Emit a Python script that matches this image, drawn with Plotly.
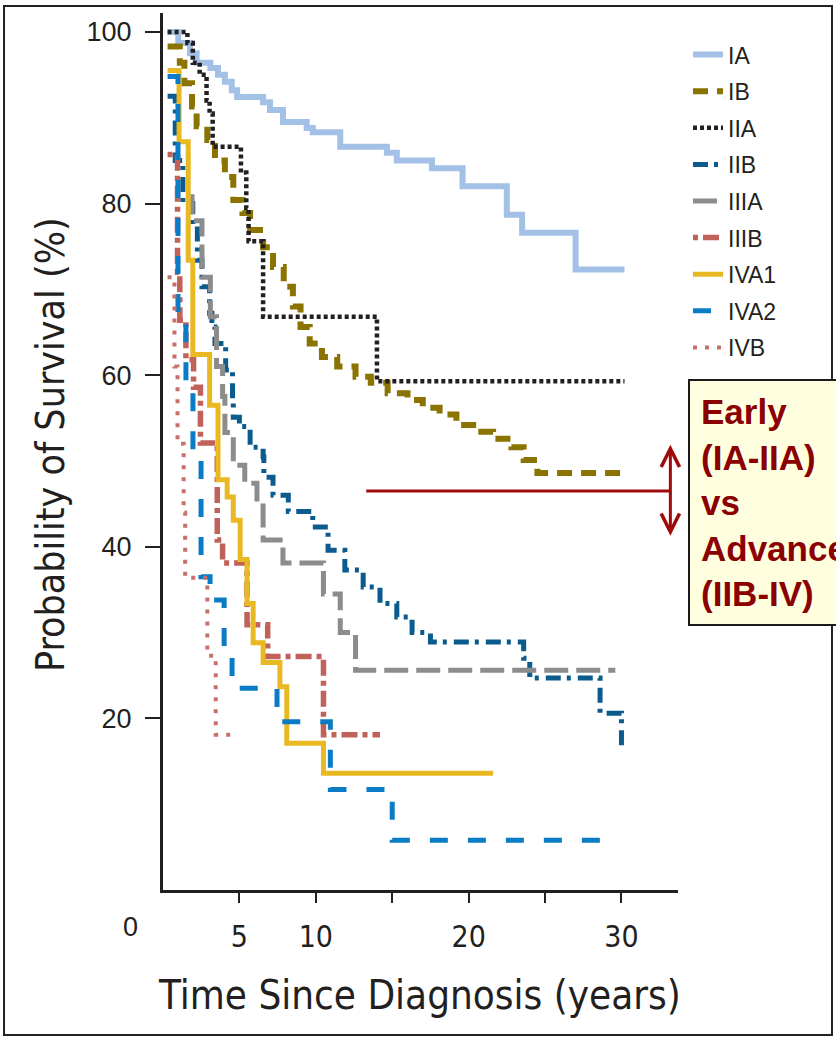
import plotly.graph_objects as go

# Kaplan-Meier survival estimates by stage: time (years) and survival (%)
stages = ["IA", "IB", "IIA", "IIB", "IIIA", "IIIB", "IVA1", "IVA2", "IVB"]

ia_t = [0.3, 1.0, 1.77, 2.2, 3.1, 3.6, 4.05, 4.5, 4.85, 6.55, 7.0, 7.85, 9.4, 9.8,
        11.6, 14.65, 15.3, 17.6, 19.6, 22.5, 23.5, 27.0, 30.2]
ia_s = [100, 98.7, 97.5, 96.4, 95.8, 95.0, 94.2, 93.2, 92.4, 91.8, 90.9, 89.5, 88.8, 88.3,
        86.6, 85.9, 85.0, 84.1, 82.0, 78.7, 76.6, 72.3, 72.3]

ib_t = [0.3, 1.1, 1.4, 1.9, 2.2, 2.9, 3.4, 4.05, 4.6, 5.2, 5.7, 6.55, 7.2, 7.9, 8.5, 9.0,
        9.6, 10.4, 11.4, 12.6, 13.6, 14.7, 16.0, 17.0, 18.1, 19.2, 20.5, 21.6, 22.8, 23.6,
        24.5, 30.2]
ib_s = [98.3, 96.4, 94.0, 91.3, 89.0, 87.4, 85.0, 83.1, 80.4, 78.9, 76.9, 74.9, 72.6, 70.3,
        68.0, 65.6, 63.7, 62.1, 61.0, 59.8, 59.1, 57.9, 57.1, 56.2, 55.4, 54.2, 53.4, 52.6,
        51.6, 50.1, 48.6, 48.6]

iia_t = [0.3, 1.6, 1.95, 2.4, 2.85, 3.05, 3.25, 5.1, 5.45, 5.6, 6.55, 14.0, 30.2]
iia_s = [100, 98.7, 96.4, 95.0, 92.0, 90.5, 86.6, 83.6, 79.5, 75.6, 66.8, 59.3, 59.3]

iib_t = [0.3, 0.8, 1.3, 1.95, 2.25, 2.55, 3.05, 3.2, 3.4, 4.1, 4.55, 4.6, 5.0, 5.7, 6.55,
         6.6, 7.2, 8.2, 9.8, 10.8, 11.9, 13.1, 14.2, 15.3, 16.3, 17.5, 23.6, 24.0, 28.6, 30.0]
iib_s = [92.5, 85.0, 80.0, 77.5, 73.4, 70.3, 67.2, 65.6, 63.7, 60.6, 57.1, 55.1, 54.0, 51.6,
         50.5, 48.1, 46.0, 44.1, 42.3, 39.6, 37.3, 35.3, 33.4, 31.8, 30.0, 28.9, 27.0, 24.7,
         20.6, 16.3]

iiia_t = [1.5, 1.9, 2.55, 3.1, 3.5, 3.9, 4.05, 4.6, 5.35, 6.15, 6.55, 7.85, 10.5, 11.6,
          12.6, 29.6]
iiia_s = [80.8, 78.0, 71.4, 66.8, 61.0, 57.5, 53.3, 49.5, 47.4, 45.1, 40.8, 38.1, 34.5,
          30.0, 25.6, 25.6]

iiib_t = [0.3, 0.95, 1.1, 1.5, 2.0, 2.45, 3.55, 3.9, 5.5, 6.85, 10.5, 14.2]
iiib_s = [85.7, 72.0, 66.4, 61.8, 58.6, 52.1, 40.8, 38.1, 30.9, 27.2, 18.1, 18.1]

iva1_t = [0.3, 1.05, 1.65, 1.95, 3.05, 3.6, 4.2, 4.6, 5.05, 5.5, 5.9, 6.55, 7.65, 8.1,
          10.5, 21.6]
iva1_s = [95.5, 87.2, 73.4, 62.4, 56.5, 47.8, 45.8, 43.1, 38.5, 33.4, 28.8, 26.5, 23.7,
          17.1, 13.6, 13.6]

iva2_t = [0.3, 0.98, 1.5, 1.96, 2.49, 3.08, 4.0, 4.52, 7.46, 10.95, 15.0, 29.1]
iva2_s = [94.8, 66.0, 58.0, 51.0, 36.5, 33.8, 28.0, 23.5, 19.6, 11.7, 5.8, 5.8]

ivb_t = [0.3, 0.75, 0.95, 1.35, 1.45, 2.9, 3.45, 4.9]
ivb_s = [71.4, 61.0, 52.0, 44.0, 36.4, 27.3, 18.1, 18.1]

x_tick_vals = [5, 10, 15, 20, 25, 30]
x_tick_text = ["5", "10", "", "20", "", "30"]
y_tick_vals = [20, 40, 60, 80, 100]

# comparison marker: horizontal rule and double arrow beside the callout
split_level = 46.5
split_x = [13.3, 33.2]
arrow_span = [51.9, 41.1]

series = [
    (ia_t, ia_s, "#a3c1e7", 6, "solid"),
    (ib_t, ib_s, "#8a7300", 6, "15px,9px"),
    (iia_t, iia_s, "#231f20", 4.5, "4px,3px"),
    (iib_t, iib_s, "#0b5b8f", 5, "15px,6px,4px,7px"),
    (iiia_t, iiia_s, "#8c8c8c", 5, "24px,8px"),
    (iiib_t, iiib_s, "#c0625a", 5.5, "5px,5px,16px,5px"),
    (iva1_t, iva1_s, "#e8b923", 5, "solid"),
    (iva2_t, iva2_s, "#0a7bc5", 5, "18px,20px"),
    (ivb_t, ivb_s, "#c8706a", 4, "4px,8px"),
]

narrow = "Liberation Sans Narrow, DejaVu Sans Condensed, Arial Narrow, sans-serif"
plain = "Liberation Sans, Arial, Helvetica, sans-serif"
ink = "#231f20"

fig = go.Figure()
for name, (t, s, color, width, dash) in zip(stages, series):
    fig.add_trace(go.Scatter(
        x=t, y=s, name=name, mode="lines", legendgroup=name,
        line=dict(shape="hv", color=color, width=width, dash=dash),
    ))

fig.update_layout(
    width=836, height=1038,
    margin=dict(l=163, r=158, t=13, b=148, autoexpand=False),
    paper_bgcolor="white", plot_bgcolor="white",
    showlegend=True,
    legend=dict(
        x=1.0194, y=0.977, xanchor="left", yanchor="top",
        font=dict(family=plain, size=23, color=ink),
        tracegroupgap=3.7, bgcolor="rgba(0,0,0,0)", borderwidth=0,
    ),
    xaxis=dict(
        range=[0, 33.7], showgrid=False, zeroline=False,
        showline=True, linewidth=3, linecolor=ink,
        tickmode="array", tickvals=x_tick_vals, ticktext=x_tick_text,
        ticks="outside", ticklen=10, tickwidth=2, tickcolor=ink,
        tickfont=dict(family=narrow, size=30, color=ink), ticklabelstandoff=8,
    ),
    yaxis=dict(
        range=[0, 102.2], showgrid=False, zeroline=False,
        showline=True, linewidth=3, linecolor=ink,
        tickmode="array", tickvals=y_tick_vals,
        ticks="outside", ticklen=15, tickwidth=2, tickcolor=ink,
        tickfont=dict(family=plain, size=27, color=ink), ticklabelstandoff=8,
    ),
)

# axis titles and shared origin label
fig.add_annotation(text="Time Since Diagnosis (years)", xref="paper", yref="paper",
                   x=0.499, y=-0.1197, showarrow=False, xanchor="center", yanchor="middle",
                   font=dict(family=narrow, size=40, color=ink))
fig.add_annotation(text="Probability of Survival (%)", xref="paper", yref="paper",
                   x=-0.2194, y=0.5074, showarrow=False, textangle=-90,
                   xanchor="center", yanchor="middle",
                   font=dict(family=narrow, size=39, color=ink))
fig.add_annotation(text="0", xref="paper", yref="paper", x=-0.064, y=-0.0422,
                   showarrow=False, xanchor="center", yanchor="middle",
                   font=dict(family=plain, size=27, color=ink))

# early vs advanced comparison
fig.add_shape(type="line", xref="x", yref="y", x0=split_x[0], x1=split_x[1],
              y0=split_level, y1=split_level, line=dict(color="#9e0b0b", width=3))
fig.add_annotation(xref="x", yref="y", axref="x", ayref="y",
                   x=split_x[1], y=arrow_span[0], ax=split_x[1], ay=arrow_span[1],
                   showarrow=True, arrowside="end+start", arrowhead=5, arrowsize=1.2,
                   arrowwidth=3, arrowcolor="#9e0b0b", text="")
fig.add_annotation(text="Early<br>(IA-IIA)<br>vs<br>Advanced<br>(IIB-IV)",
                   xref="paper", yref="paper", x=1.0194, y=0.5827,
                   xanchor="left", yanchor="top", align="left", showarrow=False,
                   font=dict(family=plain, size=35, color="#8b0000", weight="bold"),
                   bgcolor="#ffffe0", bordercolor="#1a1a1a", borderwidth=2, borderpad=11)

# outer frame
fig.add_shape(type="rect", xref="paper", yref="paper", x0=-0.3087, x1=1.299,
              y0=-0.1653, y1=1.008, line=dict(color="#222222", width=2),
              fillcolor="rgba(0,0,0,0)", layer="below")

fig.write_html("out.html")
